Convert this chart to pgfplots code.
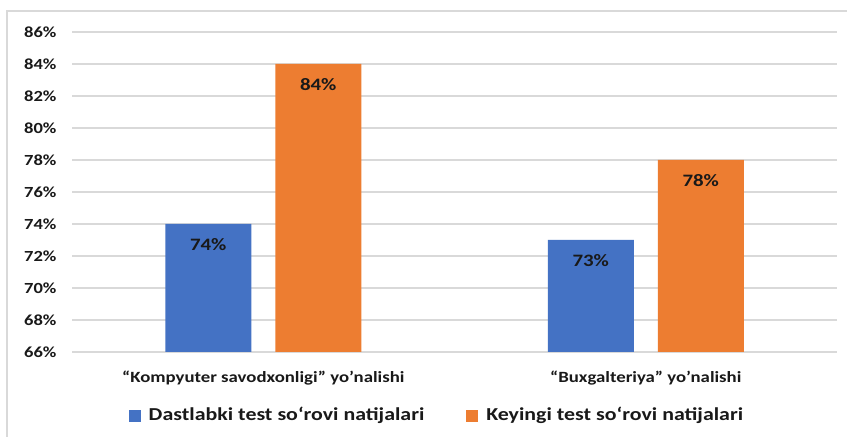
\documentclass[border=0pt]{standalone}
\usepackage{fontspec}
\setmainfont{Carlito}[FakeStretch=1.2]
\usepackage{pgfplots}
\pgfplotsset{compat=1.18}
\definecolor{cblue}{HTML}{4472C4}
\definecolor{corange}{HTML}{ED7D31}
\definecolor{cgrid}{HTML}{D9D9D9}
\begin{document}
\begin{tikzpicture}
\path[use as bounding box] (0,0) rectangle (847bp,437bp);
\fill[white] (0,0) rectangle (847bp,437bp);
\draw[cgrid, line width=1.2bp] (7bp,-5bp) -- (7bp,426bp) -- (860bp,426bp);
\begin{axis}[
  at={(72bp,85bp)}, anchor=south west,
  scale only axis, width=765bp, height=320bp,
  ybar=24bp, bar width=86bp,
  xmin=-0.5, xmax=1.5,
  ymin=66, ymax=86,
  ytick={66,68,...,86},
  xtick={0,1},
  xticklabels={“Kompyuter savodxonligi” yo’nalishi, “Buxgalteriya” yo’nalishi},
  yticklabel={\pgfmathprintnumber{\tick}\%},
  /pgf/number format/assume math mode=true,
  axis line style={draw=none},
  major tick length=0pt,
  ymajorgrids, grid style={cgrid, line width=1.2bp},
  yticklabel style={font=\fontsize{15.5}{18}\selectfont\bfseries, text=black!90, xshift=-12bp},
  xticklabel style={font=\fontsize{15.7}{18}\selectfont\bfseries, text=black!90, yshift=-15bp},
  nodes near coords={\pgfmathprintnumber{\pgfplotspointmeta}\%},
  every node near coord/.append style={font=\fontsize{17.5}{20}\selectfont\bfseries, text=black!90, anchor=center, yshift=-21bp},
  legend style={at={(0.477,-0.196)}, anchor=center, draw=none, fill=none,
    font=\fontsize{18.3}{22}\selectfont\bfseries, text=black!90,
    /tikz/every odd column/.append style={column sep=6bp},
    /tikz/every even column/.append style={column sep=40bp}},
  legend columns=2,
  legend image code/.code={\fill[#1] (0bp,-7bp) rectangle (12bp,5bp);},
]
\addplot[fill=cblue, draw=none] coordinates {(0,74) (1,73)};
\addplot[fill=corange, draw=none] coordinates {(0,84) (1,78)};
\legend{Dastlabki test so‘rovi natijalari, Keyingi test so‘rovi natijalari}
\end{axis}
\end{tikzpicture}
\end{document}
